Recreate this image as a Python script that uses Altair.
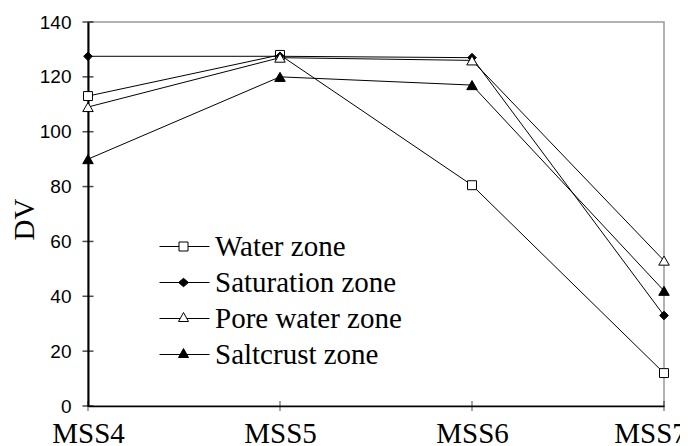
import altair as alt
import pandas as pd

categories = ["MSS4", "MSS5", "MSS6", "MSS7"]
series_names = ["Water zone", "Saturation zone", "Pore water zone", "Saltcrust zone"]
water = [113, 128, 80.5, 12]
saturation = [127.5, 127.5, 127, 33]
pore = [109, 127, 126, 53]
saltcrust = [90, 120, 117, 42]
y_ticks = [0, 20, 40, 60, 80, 100, 120, 140]

marker_shapes = ["square", "diamond", "triangle-up", "triangle-up"]
marker_fills = ["white", "black", "white", "black"]
marker_strokes = ["black", "black", "black", "black"]
marker_sizes = [80, 75, 110, 110]
legend_paths = [
    "M-1,0H0.95M1.85,0H4M0.95,-0.45H1.85V0.45H0.95Z",
    "M-1,0H4M0.9,0L1.4,-0.42L1.9,0L1.4,0.42Z",
    "M-1,0H1.07M1.73,0H4M1.4,-0.6L1.9,0.3L0.9,0.3Z",
    "M-1,0H4M1.4,-0.6L1.9,0.3L0.9,0.3Z",
]

rows = []
for name, vals in zip(series_names, [water, saturation, pore, saltcrust]):
    for c, v in zip(categories, vals):
        rows.append({"cat": c, "value": v, "series": name})
df = pd.DataFrame(rows)
tick_df = pd.DataFrame({"v": y_ticks})
cat_df = pd.DataFrame({"cat": categories})

SERIF = "Liberation Serif"
SANS = "Liberation Sans"

x_enc = alt.X(
    "cat:N",
    sort=categories,
    scale=alt.Scale(type="point", padding=0),
    axis=alt.Axis(
        title=None,
        labelFont=SERIF,
        labelFontSize=29,
        labelColor="black",
        labelAngle=0,
        ticks=False,
        tickSize=0,
        labelPadding=36,
        labelBaseline="alphabetic",
        domainColor="black",
        domainWidth=1.5,
        grid=False,
        labelOffset={"condition": {"test": "datum.value == 'MSS7'", "value": -14}, "value": 0},
    ),
)
y_enc = alt.Y(
    "value:Q",
    scale=alt.Scale(domain=[0, 140], nice=False, zero=True),
    axis=alt.Axis(
        title="DV",
        titleFont=SERIF,
        titleFontSize=29,
        titleFontWeight="normal",
        titleColor="black",
        titleX=-55,
        titleY=197,
        titleBaseline="alphabetic",
        titleAlign="center",
        values=y_ticks,
        labelFont=SANS,
        labelFontSize=19,
        labelColor="black",
        labelPadding=17,
        labelFlush=False,
        labelOverlap=False,
        ticks=False,
        tickSize=0,
        domainColor="black",
        domainWidth=2,
        grid=False,
    ),
)

lines = alt.Chart(df).mark_line(color="black", strokeWidth=1).encode(
    x=x_enc, y=y_enc, detail="series:N"
)

point_layers = []
for name, shp, fil, sz in zip(series_names, marker_shapes, marker_fills, marker_sizes):
    point_layers.append(
        alt.Chart(df)
        .transform_filter(alt.datum.series == name)
        .mark_point(shape=shp, fill=fil, filled=True, opacity=1, stroke="black", strokeWidth=1, size=sz)
        .encode(x=x_enc, y=y_enc)
    )

leg = alt.Legend(
    orient="none",
    legendX=67,
    legendY=210,
    title=None,
    labelFont=SERIF,
    labelFontSize=29,
    labelColor="black",
    labelOffset=31,
    labelLimit=0,
    rowPadding=6,
    symbolSize=400,
    symbolStrokeWidth=1,
    padding=0,
)

legend_layer = alt.Chart(df).transform_filter("false").mark_point(
    opacity=1, strokeWidth=1, size=400, filled=True
).encode(
    x=x_enc,
    y=y_enc,
    shape=alt.Shape("series:N", scale=alt.Scale(domain=series_names, range=legend_paths), legend=leg),
    fill=alt.Fill("series:N", scale=alt.Scale(domain=series_names, range=marker_fills), legend=leg),
    stroke=alt.Stroke("series:N", scale=alt.Scale(domain=series_names, range=marker_strokes), legend=leg),
)

ytick_layer = alt.Chart(tick_df).mark_tick(
    color="black", thickness=1.5, size=11, orient="horizontal"
).encode(
    x=alt.XDatum("MSS4", type="nominal"),
    y=alt.Y("v:Q"),
)

xtick_layer = alt.Chart(cat_df).mark_tick(
    color="black", thickness=1, size=10, orient="vertical"
).encode(
    x=alt.X("cat:N", sort=categories),
    y=alt.YDatum(0, type="quantitative"),
)

chart = (
    alt.layer(lines, *point_layers, legend_layer, ytick_layer, xtick_layer)
    .properties(
        width=576,
        height=384,
        autosize=alt.AutoSizeParams(type="none"),
        padding={"left": 80, "top": 14, "right": 16, "bottom": 40},
        background="white",
    )
    .configure_view(stroke="#9a9a9a", strokeWidth=1.5)
)

chart.save("out.html", embed_options={"renderer": "svg", "actions": False})
